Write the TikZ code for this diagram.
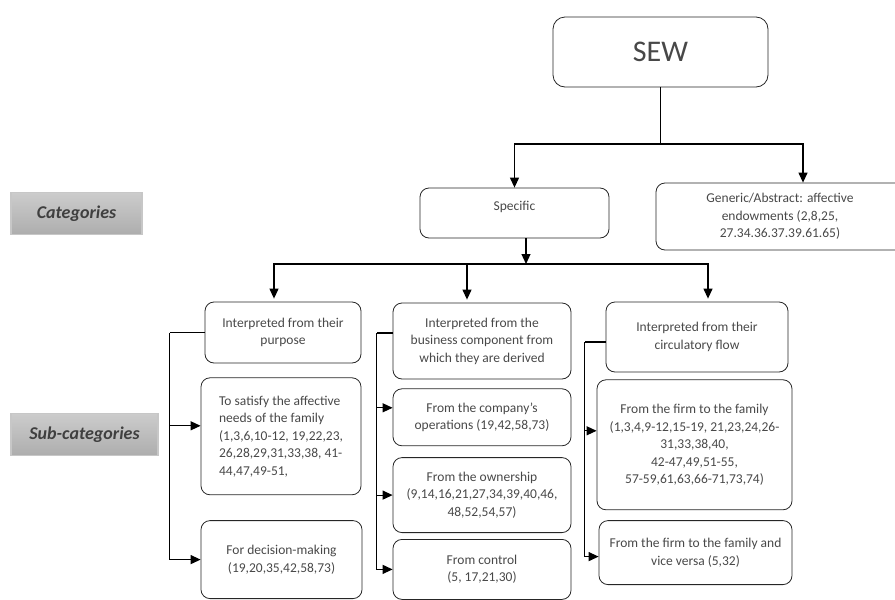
\documentclass[tikz,border=0pt]{standalone}
\usepackage{fontspec}
\setmainfont{Carlito}
\usetikzlibrary{positioning, arrows.meta}
\definecolor{txtgray}{HTML}{484848}
\definecolor{lblgray}{HTML}{3F3F3F}

\begin{document}
\begin{tikzpicture}[x=1pt, y=-1pt, node distance=10pt, line width=1.2pt,
    every node/.style={font=\fontsize{13.5}{17.5}\selectfont, text=txtgray},
    box/.style={draw=black!85, line width=0.8pt, rounded corners=9pt, align=center, inner sep=3pt},
    lbl/.style={draw=black!22, top color=black!20, bottom color=black!32, minimum height=42pt,
      font=\fontsize{18}{20}\selectfont\bfseries\itshape, text=lblgray},
    arr/.style={-{Triangle[width=9pt,length=10pt]}}]
        \useasboundingbox (0,0) rectangle (895,600);
        % categories
        \node[box, minimum width=215pt, minimum height=70pt, rounded corners=12pt,
          font=\fontsize{30}{34}\selectfont] (sew) at (660.5,52) {SEW};
        \node[box, minimum width=189pt, minimum height=50pt] (spec) at (514.5,213) {\raisebox{14pt}{Specific}};
        \node[box, minimum width=248pt, minimum height=67pt] (gen) at (780,216.5) {Generic/Abstract: affective\\endowments (2,8,25,\\27.34.36.37.39.61.65)};
        \node[lbl, minimum width=131pt] (cat) at (76.5,213.5) {Categories};
        \node[lbl, minimum width=147pt] (sub) at (84.5,434.5) {Sub-categories};
        % sub-categories
        \node[box, minimum width=156pt, minimum height=61pt] (pur) at (283,332.5) {Interpreted from their\\purpose};
        \node[box, align=left, minimum width=160pt, minimum height=117pt, below=14pt of pur, xshift=-2pt] (aff) {To satisfy the affective\\needs of the family\\(1,3,6,10-12, 19,22,23,\\26,28,29,31,33,38, 41-\\44,47,49-51,};
        \node[box, minimum width=161pt, minimum height=78pt, below=25pt of aff, xshift=0.5pt] (dec) {For decision-making\\(19,20,35,42,58,73)};
        \node[box, minimum width=178pt, minimum height=76pt] (biz) at (482,341) {Interpreted from the\\business component from\\which they are derived};
        \node[box, minimum width=178pt, minimum height=57pt, below=9pt of biz] (ops) {From the company’s\\operations (19,42,58,73)};
        \node[box, minimum width=178pt, minimum height=75pt, below=11pt of ops] (own) {From the ownership\\(9,14,16,21,27,34,39,40,46,\\48,52,54,57)};
        \node[box, minimum width=178pt, minimum height=60pt, below=6pt of own] (ctl) {From control\\(5, 17,21,30)};
        \node[box, minimum width=182pt, minimum height=70pt] (flow) at (697,337) {Interpreted from their\\circulatory flow};
        \node[box, minimum width=195pt, minimum height=130pt, below=7pt of flow, xshift=-2.5pt] (f2f) {From the firm to the family\\(1,3,4,9-12,15-19, 21,23,24,26-\\31,33,38,40,\\42-47,49,51-55,\\57-59,61,63,66-71,73,74)};
        \node[box, minimum width=193pt, minimum height=64pt, below=10pt of f2f, xshift=1pt] (vv) {From the firm to the family and\\vice versa (5,32)};
        % connectors
        \coordinate (j1) at (sew.south |- 0,144);
        \coordinate (j2) at (526,264);
        \draw (sew.south) -- (j1);
        \draw[arr] (j1) -| (spec.north);
        \draw[arr] (j1) -| ([xshift=23pt]gen.north);
        \draw[arr] ([xshift=11.5pt]spec.south) -- (j2);
        \draw[arr] (j2) -| ([xshift=-9pt,yshift=3pt]pur.north);
        \draw[arr] (j2) -| ([xshift=-15pt,yshift=3pt]biz.north);
        \draw[arr] (j2) -| ([xshift=11pt,yshift=3pt]flow.north);
        % brackets
        \draw (pur.west) -- ++(-35,0) coordinate (b1);
        \draw[arr] (b1) |- (dec.west);
        \coordinate (a1) at ([yshift=10.5pt]aff.west);
        \draw[arr] (a1 -| b1) -- (a1);
        \draw ([yshift=8pt]biz.west) -- ++(-16,0) coordinate (b2);
        \draw[arr] (b2) |- (ctl.west);
        \coordinate (a2) at ([yshift=9.5pt]ops.west);
        \draw[arr] (a2 -| b2) -- (a2);
        \draw[arr] (own.west -| b2) -- (own.west);
        \draw ([yshift=-5pt]flow.west) -- ++(-21,0) coordinate (b3);
        \draw[arr] (b3) |- ([yshift=-4pt]vv.west);
        \coordinate (a3) at ([yshift=14pt]f2f.west);
        \draw[arr] (a3 -| b3) -- (a3);
      \end{tikzpicture}
\end{document}
